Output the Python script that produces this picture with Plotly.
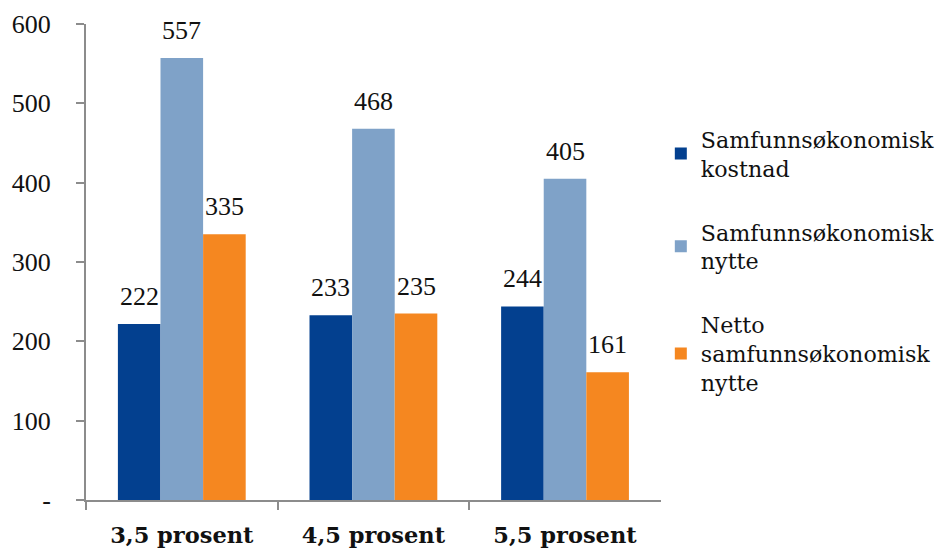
import plotly.graph_objects as go

categories = ["3,5 prosent", "4,5 prosent", "5,5 prosent"]
kostnad = [222, 233, 244]
nytte = [557, 468, 405]
netto = [335, 235, 161]

series_names = [
    "Samfunnsøkonomisk<br>kostnad",
    "Samfunnsøkonomisk<br>nytte",
    "Netto<br>samfunnsøkonomisk<br>nytte",
]
colors = ["#03408F", "#7FA2C8", "#F58720"]

y_ticks = [0, 100, 200, 300, 400, 500, 600]
y_ticktext = ["-", "100", "200", "300", "400", "500", "600"]

NUM_FONT = "Liberation Serif"
TEXT_FONT = "DejaVu Serif"
BARGAP = 0.333
PLOT_W = 940 - 86 - 278

fig = go.Figure()
all_series = [kostnad, nytte, netto]
for name, vals, col in zip(series_names, all_series, colors):
    fig.add_trace(go.Bar(
        x=categories, y=vals, name=name, legendgroup=name,
        marker=dict(color=col, line=dict(width=0)),
    ))

# value labels above each bar, shifted to the bar's slot within its group
bar_w = PLOT_W / len(categories) * (1 - BARGAP) / len(all_series)
for i, vals in enumerate(all_series):
    for cat, v in zip(categories, vals):
        fig.add_annotation(
            x=cat, y=v, text=str(v), showarrow=False,
            xanchor="center", yanchor="bottom",
            xshift=(i - 1) * bar_w, yshift=11,
            font=dict(family=NUM_FONT, size=26, color="#111"),
        )

fig.update_layout(
    width=940, height=550,
    margin=dict(l=86, r=278, t=24, b=50),
    paper_bgcolor="white", plot_bgcolor="white",
    barmode="group", bargap=BARGAP, bargroupgap=0,
    font=dict(family=NUM_FONT, size=26, color="#111"),
    showlegend=True,
    legend=dict(
        xref="container", yref="container",
        x=0.703, y=0.785, xanchor="left", yanchor="top",
        font=dict(family=TEXT_FONT, size=22.2, color="#111"),
        tracegroupgap=32, itemwidth=30, borderwidth=0, maxheight=1,
    ),
    xaxis=dict(
        showline=True, linecolor="#8c8c8c", linewidth=2,
        ticks="outside", tickson="boundaries", ticklen=8, tickcolor="#8c8c8c", tickwidth=2,
        tickfont=dict(family=TEXT_FONT, size=22.5, color="#111", weight="bold"),
        showgrid=False, ticklabelstandoff=14, automargin=False,
    ),
    yaxis=dict(
        range=[0, 600], tickvals=y_ticks, ticktext=y_ticktext,
        showline=True, linecolor="#8c8c8c", linewidth=2,
        ticks="outside", ticklen=8, tickcolor="#8c8c8c", tickwidth=2,
        tickfont=dict(family=NUM_FONT, size=26, color="#111"),
        showgrid=False, zeroline=False, ticklabelstandoff=20, automargin=False,
    ),
)

fig.write_html("out.html")
